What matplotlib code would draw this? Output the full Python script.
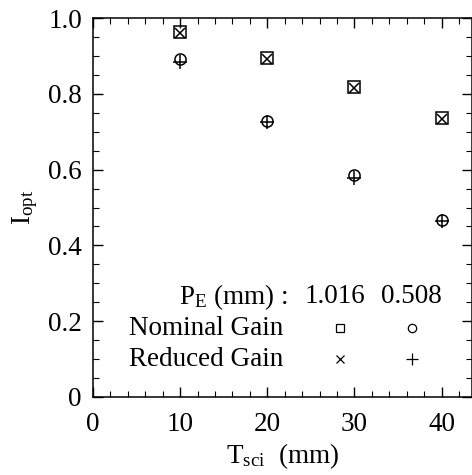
import numpy as np
import matplotlib
matplotlib.use("Agg")
import matplotlib.pyplot as plt
from matplotlib.ticker import MultipleLocator

plt.rcParams['font.family'] = ['Liberation Serif', 'DejaVu Serif']
plt.rcParams['mathtext.fontset'] = 'custom'
plt.rcParams['mathtext.rm'] = 'Liberation Serif'
plt.rcParams['mathtext.it'] = 'Liberation Serif'

# DATA
t_sci = [10, 20, 30, 40]
nominal_1016 = [0.964, 0.895, 0.817, 0.735]
reduced_1016 = [0.960, 0.893, 0.815, 0.733]
nominal_0508 = [0.893, 0.729, 0.585, 0.466]
reduced_0508 = [0.885, 0.725, 0.579, 0.464]
x_ticks = [0, 10, 20, 30, 40]
x_labels = ['0', '10', '20', '30', '40']
y_ticks = [0, 0.2, 0.4, 0.6, 0.8, 1.0]
y_labels = ['0', '0.2', '0.4', '0.6', '0.8', '1.0']

fig = plt.figure(figsize=(4.72, 4.75), dpi=100)
ax = fig.add_axes([93/472, 78/475, 379/472, 379/475])

ax.plot(t_sci, nominal_1016, 's', ms=8, mfc='none', mec='black', mew=1.1)
ax.plot(t_sci, reduced_1016, 'x', ms=7.5, color='black', mew=1.1)
ax.plot(t_sci, nominal_0508, 'o', ms=8, mfc='none', mec='black', mew=1.1)
ax.plot(t_sci, reduced_0508, '+', ms=10, color='black', mew=1.1)

# legend drawn as a small table
fs = 19.5
ax.text(22.4, 0.264, r'P$_\mathrm{E}$ (mm) :', ha='right', va='center', fontsize=fs)
ax.text(27.8, 0.264, '1.016', ha='center', va='center', fontsize=fs)
ax.text(36.5, 0.264, '0.508', ha='center', va='center', fontsize=fs)
ax.text(4.1, 0.182, 'Nominal Gain', ha='left', va='center', fontsize=fs)
ax.text(4.1, 0.100, 'Reduced Gain', ha='left', va='center', fontsize=fs)
ax.plot([28.3], [0.182], 's', ms=6, mfc='none', mec='black', mew=0.9)
ax.plot([36.6], [0.182], 'o', ms=6, mfc='none', mec='black', mew=0.9)
ax.plot([28.3], [0.100], 'x', ms=6, color='black', mew=0.9)
ax.plot([36.6], [0.100], '+', ms=8, color='black', mew=0.9)

ax.set_xlim(0, 43.5)
ax.set_ylim(0, 1.0)
ax.set_xticks(x_ticks, x_labels)
ax.set_yticks(y_ticks, y_labels)
ax.xaxis.set_minor_locator(MultipleLocator(2))
ax.yaxis.set_minor_locator(MultipleLocator(0.05))
ax.tick_params(which='both', direction='in', top=True, right=True, labelsize=fs)
ax.tick_params(which='major', length=7, width=1)
ax.tick_params(which='minor', length=4, width=0.8)
ax.tick_params(axis='x', pad=11)
ax.tick_params(axis='y', pad=8)
for s in ax.spines.values():
    s.set_linewidth(1.1)

ax.set_xlabel(r'T$_\mathrm{sci}$  (mm)', fontsize=fs, labelpad=3)
ax.set_ylabel(r'I$_\mathrm{opt}$', fontsize=fs, labelpad=6)

fig.savefig('out.png', dpi=100)
